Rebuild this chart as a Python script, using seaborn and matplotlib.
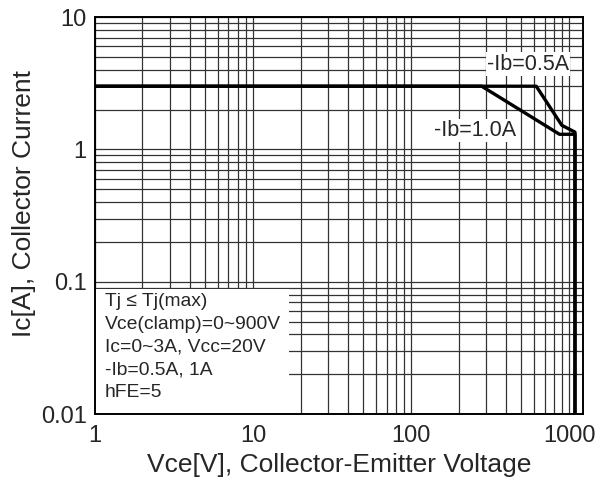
import matplotlib
matplotlib.use("Agg")
import matplotlib.pyplot as plt
from matplotlib.patches import Rectangle
from matplotlib.ticker import FixedLocator, LogLocator, NullFormatter
import pandas as pd
import seaborn as sns

# curve data (Vce in V, Ic in A)
vce_05 = [1, 620, 900, 1090, 1090]
ic_05 = [3, 3, 1.52, 1.35, 0.01]
vce_10 = [1, 280, 870, 1090, 1090]
ic_10 = [3, 3, 1.3, 1.3, 0.01]

x_ticks = [1, 10, 100, 1000]
x_labels = ["1", "10", "100", "1000"]
y_ticks = [0.01, 0.1, 1, 10]
y_labels = ["0.01", "0.1", "1", "10"]

notes = ["Tj \u2264 Tj(max)", "Vce(clamp)=0~900V", "Ic=0~3A, Vcc=20V",
         "-Ib=0.5A, 1A", "hFE=5"]

sns.set_style("white")
plt.rcParams["font.family"] = ["Liberation Sans", "DejaVu Sans"]

fig = plt.figure(figsize=(5.97, 4.86), dpi=100)
ax = fig.add_axes([0.159, 0.148, 0.818, 0.817])

df = pd.concat([
    pd.DataFrame({"vce": vce_05, "ic": ic_05, "ib": "-Ib=0.5A"}),
    pd.DataFrame({"vce": vce_10, "ic": ic_10, "ib": "-Ib=1.0A"}),
])
sns.lineplot(data=df, x="vce", y="ic", units="ib", estimator=None, sort=False,
             color="black", lw=2.4, ax=ax, zorder=3, legend=False)

ax.set_xscale("log")
ax.set_yscale("log")
ax.set_xlim(1, 1230)
ax.set_ylim(0.01, 10)

ax.xaxis.set_major_locator(FixedLocator(x_ticks))
ax.set_xticklabels(x_labels)
ax.yaxis.set_major_locator(FixedLocator(y_ticks))
ax.set_yticklabels(y_labels)
ax.xaxis.set_minor_locator(LogLocator(base=10, subs=range(2, 10)))
ax.yaxis.set_minor_locator(LogLocator(base=10, subs=range(2, 10)))
ax.xaxis.set_minor_formatter(NullFormatter())
ax.yaxis.set_minor_formatter(NullFormatter())

ax.set_axisbelow(True)
ax.grid(True, which="both", color="0.2", lw=0.9)
ax.tick_params(which="both", direction="in", labelsize=17, color="0.3")
ax.tick_params(which="major", length=0, pad=6)
ax.tick_params(which="minor", length=3)
ax.tick_params(axis="x", pad=8)

for s in ax.spines.values():
    s.set_color("black")
    s.set_linewidth(1.4)

# blank area behind the conditions text
ax.add_patch(Rectangle((1, 0.01), 16, 0.078, facecolor="white",
                       edgecolor="none", zorder=1))

ax.set_xlabel("Vce[V], Collector-Emitter Voltage", fontsize=19, labelpad=4)
ax.set_ylabel("Ic[A], Collector Current", fontsize=19, labelpad=6)
ax.yaxis.set_label_coords(-0.12, 0.53)

ax.text(550, 4.4, "-Ib=0.5A", fontsize=15.5, ha="center", va="center",
        zorder=4, bbox=dict(facecolor="white", edgecolor="none", pad=1))
ax.text(254, 1.39, "-Ib=1.0A", fontsize=15.5, ha="center", va="center",
        zorder=4, bbox=dict(facecolor="white", edgecolor="none", pad=1))

ax.text(0.02, 0.305, "\n".join(notes), transform=ax.transAxes, fontsize=13.9,
        ha="left", va="top", linespacing=1.45, zorder=4)

fig.savefig("out.png", dpi=100)
